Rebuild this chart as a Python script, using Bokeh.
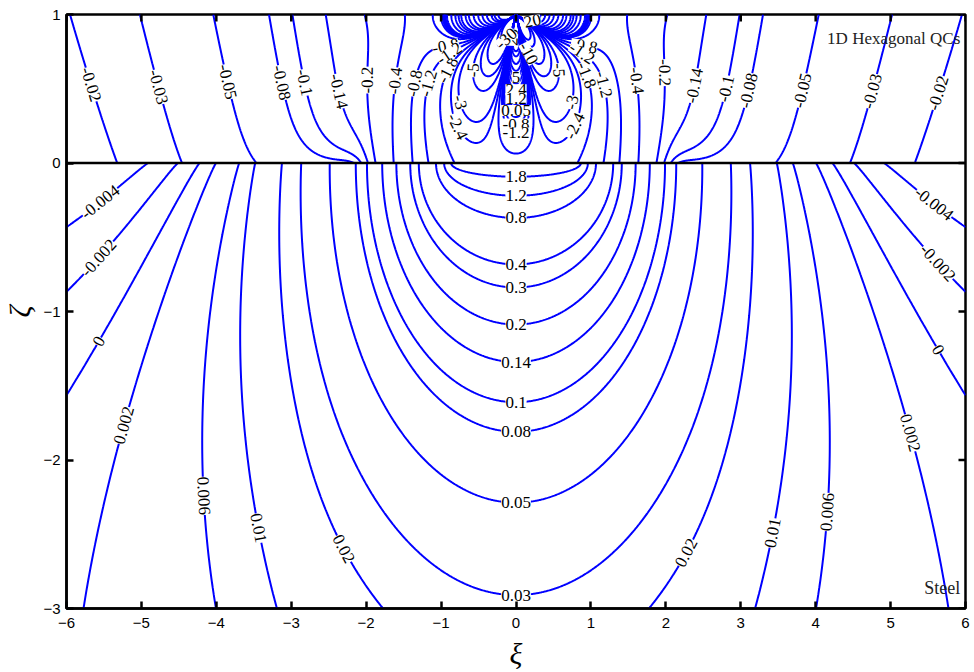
import numpy as np
import contourpy
from bokeh.plotting import figure
from bokeh.models import (ColumnDataSource, LabelSet, Label, Span, Range1d, FixedTicker)
from bokeh.embed import file_html
from bokeh.resources import INLINE

# ---------------- chart data ----------------
x_ticks = [-6, -5, -4, -3, -2, -1, 0, 1, 2, 3, 4, 5, 6]
y_ticks = [-3, -2, -1, 0, 1]
x_limits = [-6, 6]
y_limits = [-3, 1]

# contour levels, coating (upper) and substrate (lower)
upper_levels = [-30, -20, -10, -7, -5, -3, -2.4, -1.8, -1.2, -0.8, -0.4, -0.2, -0.14,
                -0.1, -0.08, -0.05, -0.03, -0.02, 0.05, 0.3, 0.6, 0.9, 1.2, 1.8, 2.4,
                3.5, 5, 7, 10, 15, 20, 30]
lower_levels = [-0.004, -0.002, 0, 0.002, 0.006, 0.01, 0.02, 0.03, 0.05, 0.08,
                0.1, 0.14, 0.2, 0.3, 0.4, 0.8, 1.2, 1.8]

# contour labels (text and approximate place on the chart)
up_label_text = ["-0.02", "-0.03", "-0.05", "-0.08", "-0.1", "-0.14", "-0.2", "-0.4",
                 "-0.8", "-1.2", "-1.8", "-3", "-2.4", "-5",
                 "-0.02", "-0.03", "-0.05", "-0.08", "-0.1", "-0.14", "-0.2", "-0.4",
                 "-1.2", "-1.8", "-3", "-2.4", "-5",
                 "5", "2.4", "1.2", "0.05", "-0.8", "-1.2",
                 "-0.8", "-1.2", "-0.8", "-1.2",
                 "20", "20", "-30", "-10"]
up_label_x = [-5.67, -4.85, -4.0, -3.25, -2.94, -2.22, -1.94, -1.54,
              -1.29, -1.12, -0.81, -0.57, -0.68, -0.41,
              5.65, 4.85, 3.97, 3.24, 2.81, 2.30, 1.97, 1.54,
              1.17, 0.84, 0.57, 0.71, 0.43,
              0.0, 0.0, 0.0, 0.0, 0.0, 0.0,
              -0.99, -0.98, 0.95, 0.96,
              -0.22, 0.26, 0.0, 0.22]
up_label_y = [0.53, 0.50, 0.53, 0.53, 0.53, 0.50, 0.56, 0.55,
              0.53, 0.53, 0.60, 0.43, 0.27, 0.62,
              0.47, 0.47, 0.47, 0.47, 0.50, 0.53, 0.61, 0.55,
              0.53, 0.57, 0.43, 0.27, 0.62,
              0.57, 0.48, 0.39, 0.30, 0.15, 0.06,
              0.91, 0.80, 0.91, 0.80,
              0.85, 0.88, 0.77, 0.75]

lo_label_text = ["1.8", "1.2", "0.8", "0.4", "0.3", "0.2", "0.14", "0.1", "0.08",
                 "0.05", "0.03",
                 "-0.004", "-0.002", "0", "0.002", "0.006", "0.01", "0.02",
                 "-0.004", "-0.002", "0", "0.002", "0.006", "0.01", "0.02"]
lo_label_x = [0.0, 0.0, 0.0, 0.0, 0.0, 0.0, 0.0, 0.0, 0.0, 0.0, 0.0,
              -5.61, -5.54, -5.49, -5.20, -4.35, -3.74, -2.43,
              5.63, 5.61, 5.57, 5.27, 4.45, 3.67, 2.41]
lo_label_y = [-0.02, -0.19, -0.36, -0.69, -0.84, -1.08, -1.33, -1.59, -1.79,
              -2.27, -2.93,
              -0.22, -0.65, -1.22, -1.77, -2.25, -2.49, -2.63,
              -0.24, -0.68, -1.28, -1.82, -2.36, -2.52, -2.66]

# ---------------- field models used to trace the contours ----------------
# substrate (lower layer): nested half-ellipses, depth b and half-width g(b)
K_L, N_L, H_L = 0.96, 2.7, 0.7
G0, G1, G2 = 0.8, 0.72, 0.012
NEG0, NEG_X, NEG_W, NEG_LAM, NEG_P = 0.0118, 3.05, 0.28, 1.55, 0.9
# coating (upper layer)
A0_U, A1_U, N_U, C_U = 1.2, 0.36, 2.43, 0.8
W_U, SIG_U = 0.7, 1.45
E_U, E_X, E_DEC, E_LAM = 0.13, 2.0, 0.45, 0.2
C_S, M_S, R_S, X_S = 2.15, 1.75, 1.0, 1.15


def sigmoid(u):
    return 1.0 / (1.0 + np.exp(-u))


def half_width(b):
    return G0 + G1 * b + G2 * b * b


def solve_depth(ax, d):
    lo = np.full(ax.shape, 1e-4)
    hi = np.full(ax.shape, 80.0)
    for _ in range(60):
        mid = 0.5 * (lo + hi)
        val = (ax / half_width(mid)) ** 2 + (d / mid) ** 2
        big = val > 1.0
        lo = np.where(big, mid, lo)
        hi = np.where(big, hi, mid)
    return 0.5 * (lo + hi)


def lower_field(X, Y):
    d = -Y
    ax = np.abs(X)
    b = solve_depth(ax, d)
    pos = K_L / (b + H_L) ** N_L
    neg = NEG0 * np.exp(-(d / NEG_LAM) ** NEG_P) * sigmoid((ax - NEG_X) / NEG_W)
    return pos - neg


def upper_field(X, Y):
    t = 1.0 - Y
    ax = np.abs(X)
    A = A0_U + A1_U * Y
    back = -A / (X ** 2 + C_U ** 2) ** (N_U / 2.0)
    well = -W_U * np.exp(-(ax / SIG_U) ** 6)
    edge = (E_U * np.exp(-Y / E_LAM) * sigmoid((ax - E_X) / 0.08)
            * np.exp(-np.clip(ax - E_X, -3, None) / E_DEC))
    xs_ = X / X_S
    r = np.maximum(np.sqrt(xs_ ** 2 + t ** 2), 4e-3)
    cos4 = (t ** 4 - 6 * t ** 2 * xs_ ** 2 + xs_ ** 4) / r ** 4
    near = C_S * cos4 * r ** (-M_S) * np.exp(-r ** 2 / R_S ** 2)
    return np.clip(back + well + edge + near, -400, 400)


gx = np.linspace(-6, 6, 1201)
gyu = np.linspace(0, 1, 241)
gyl = np.linspace(-3, 0, 361)
XU, YU = np.meshgrid(gx, gyu)
XL, YL = np.meshgrid(gx, gyl)
ZU = upper_field(XU, YU)
ZL = lower_field(XL, YL)

gen_u = contourpy.contour_generator(gx, gyu, ZU, line_type="Separate")
gen_l = contourpy.contour_generator(gx, gyl, ZL, line_type="Separate")

xs_all, ys_all = [], []
for gen, levels in ((gen_u, upper_levels), (gen_l, lower_levels)):
    for lv in levels:
        for s in gen.lines(lv):
            if len(s) > 1:
                xs_all.append(s[:, 0])
                ys_all.append(s[:, 1])

# screen scale (px per data unit) for label angles
SX = 901 / 12.0
SY = 594 / 4.0


def snap(segs, x0, y0, maxd=45.0):
    best = None
    for s in segs:
        if len(s) < 3:
            continue
        dx = (s[:, 0] - x0) * SX
        dy = (s[:, 1] - y0) * SY
        d2 = dx * dx + dy * dy
        i = int(np.argmin(d2))
        if best is None or d2[i] < best[0]:
            best = (d2[i], s, i)
    if best is None or best[0] > maxd ** 2:
        return x0, y0, 0.0
    _, s, i = best
    i0, i1 = max(i - 3, 0), min(i + 3, len(s) - 1)
    ang = np.arctan2((s[i1, 1] - s[i0, 1]) * SY, (s[i1, 0] - s[i0, 0]) * SX)
    if ang > np.pi / 2:
        ang -= np.pi
    if ang < -np.pi / 2:
        ang += np.pi
    return float(s[i, 0]), float(s[i, 1]), float(ang)


lab_x, lab_y, lab_a, lab_t = [], [], [], []
for texts, xs_, ys_, gen in ((up_label_text, up_label_x, up_label_y, gen_u),
                             (lo_label_text, lo_label_x, lo_label_y, gen_l)):
    for t_, x0, y0 in zip(texts, xs_, ys_):
        x1, y1, a1 = snap(gen.lines(float(t_)), x0, y0)
        lab_x.append(x1)
        lab_y.append(y1)
        lab_a.append(a1)
        lab_t.append(t_)

# ---------------- figure ----------------
p = figure(width=974, height=672, x_range=Range1d(*x_limits), y_range=Range1d(*y_limits),
           output_backend="svg", toolbar_location=None,
           min_border_left=64, min_border_right=9, min_border_top=14, min_border_bottom=10)
p.background_fill_color = "white"
p.border_fill_color = "white"
p.grid.visible = False
p.outline_line_color = "black"
p.outline_line_width = 2.5

p.multi_line(xs=xs_all, ys=ys_all, line_color="#0000FF", line_width=2)

p.add_layout(Span(location=0, dimension="width", line_color="black", line_width=2.5))

# inward ticks mirrored on the top and right frame edges
p.scatter(x=x_ticks, y=[y_limits[1]] * len(x_ticks), marker="dash", angle=np.pi / 2,
          size=14, line_color="black", line_width=2.5)
p.scatter(x=[x_limits[1]] * len(y_ticks), y=y_ticks, marker="dash", angle=0,
          size=14, line_color="black", line_width=2.5)

src = ColumnDataSource(dict(x=lab_x, y=lab_y, a=lab_a, t=lab_t))
p.add_layout(LabelSet(x="x", y="y", text="t", angle="a", source=src,
                      text_align="center", text_baseline="middle",
                      text_font="Liberation Sans", text_font_size="17px",
                      text_color="black", background_fill_color="white"))

p.add_layout(Label(x=5.93, y=0.84, text="1D Hexagonal QCs", text_align="right",
                   text_baseline="middle", text_font="Liberation Serif",
                   text_font_size="17px", text_color="#222222"))
p.add_layout(Label(x=5.93, y=-2.86, text="Steel", text_align="right",
                   text_baseline="middle", text_font="Liberation Serif",
                   text_font_size="18px", text_color="#222222"))

for ax_ in (p.xaxis[0], p.yaxis[0]):
    ax_.major_tick_in = 7
    ax_.major_tick_out = 0
    ax_.minor_tick_line_color = None
    ax_.axis_line_width = 2.5
    ax_.major_tick_line_width = 2.5
    ax_.major_label_text_font = "Liberation Sans"
    ax_.major_label_text_font_size = "15px"
    ax_.major_label_text_color = "black"
    ax_.axis_label_text_font = "Liberation Serif"
    ax_.axis_label_text_font_style = "italic"
    ax_.axis_label_text_font_size = "30px"
    ax_.axis_label_text_color = "black"
p.xaxis.ticker = FixedTicker(ticks=x_ticks)
p.yaxis.ticker = FixedTicker(ticks=y_ticks)
p.xaxis.axis_label = "ξ"
p.yaxis.axis_label = "ζ"
p.xaxis.major_label_standoff = 9
p.xaxis.axis_label_standoff = 6
p.yaxis.major_label_standoff = 6
p.yaxis.axis_label_standoff = 4

open("out.html", "w").write(file_html(p, INLINE))
